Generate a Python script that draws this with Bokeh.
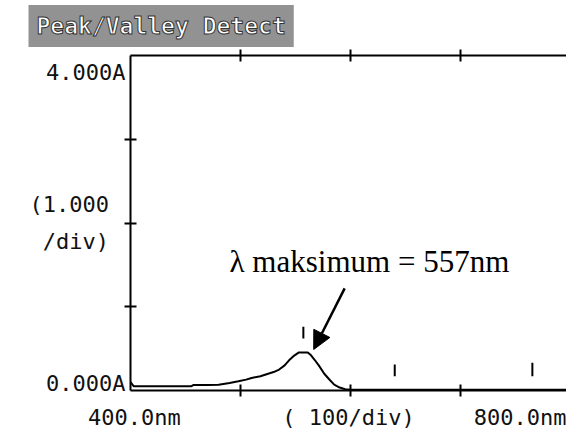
from bokeh.plotting import figure
from bokeh.models import Range1d, Label, Arrow, NormalHead, LinearAxis, FixedTicker, Title
from bokeh.embed import file_html
from bokeh.resources import INLINE

# ---- data ----
wavelength = [400, 403, 455, 457, 470, 480, 490, 498, 505, 510, 518, 525, 530, 535,
              540, 544, 549, 553, 557, 561, 564, 567, 571, 576, 580, 585, 590, 595,
              600, 610, 650, 700, 750, 796]
absorbance = [0.10, 0.05, 0.05, 0.065, 0.065, 0.07, 0.09, 0.11, 0.13, 0.15, 0.17, 0.20, 0.22, 0.25,
              0.30, 0.36, 0.42, 0.455, 0.455, 0.455, 0.42, 0.37, 0.30, 0.20, 0.14, 0.07, 0.035, 0.015,
              0.01, 0.01, 0.01, 0.01, 0.01, 0.01]

# peak / valley marker positions (nm) and their vertical extent (A)
marker_nm = [557, 640, 765]
marker_lo = [0.62, 0.17, 0.17]
marker_hi = [0.76, 0.31, 0.33]

x_ticks = [500, 600, 700]
y_ticks = [1, 2, 3]
y_label_pos = [0.08, 3.80]
y_labels = ["0.000A", "4.000A"]
y_div_label = "(1.000\n/div)"
x_label_pos = [403.6, 598.0, 759.0]
x_labels = ["400.0nm", "( 100/div)", "800.0nm"]
title_text = "Peak/Valley Detect"
peak_text = "λ maksimum = 557nm"
peak_nm = 557

mono = "DejaVu Sans Mono"

p = figure(width=566, height=436, output_backend="svg", toolbar_location=None,
           x_range=Range1d(400, 796), y_range=Range1d(0, 4),
           x_axis_location=None, y_axis_location=None,
           min_border_left=130, min_border_right=0, min_border_top=55, min_border_bottom=46)
p.outline_line_color = None
p.xgrid.visible = False
p.ygrid.visible = False
p.background_fill_color = "white"
p.border_fill_color = "white"

def tick_axis(ticks):
    ax = LinearAxis(ticker=FixedTicker(ticks=ticks))
    ax.axis_line_color = "black"
    ax.axis_line_width = 2
    ax.major_tick_line_color = "black"
    ax.major_tick_line_width = 2
    ax.major_tick_in = 6
    ax.major_tick_out = 6
    ax.minor_tick_line_color = None
    ax.major_label_text_color = None
    ax.major_label_text_font_size = "1px"
    ax.major_label_standoff = -4
    return ax

def label_axis(pos, labels, standoff):
    ax = LinearAxis(ticker=FixedTicker(ticks=pos))
    ax.major_label_overrides = dict(zip(pos, labels))
    ax.axis_line_color = None
    ax.major_tick_line_color = None
    ax.major_tick_in = 0
    ax.major_tick_out = 0
    ax.minor_tick_line_color = None
    ax.major_label_text_font = mono
    ax.major_label_text_font_size = "22px"
    ax.major_label_text_color = "#111"
    ax.major_label_standoff = standoff
    return ax

p.add_layout(tick_axis(y_ticks), "left")
p.add_layout(tick_axis(x_ticks), "below")
p.add_layout(tick_axis(x_ticks), "above")

yl = label_axis(y_label_pos, y_labels, -1)
yl.axis_label = y_div_label
yl.axis_label_orientation = "horizontal"
yl.axis_label_text_font = mono
yl.axis_label_text_font_size = "22px"
yl.axis_label_text_font_style = "normal"
yl.axis_label_text_color = "#111"
yl.axis_label_text_line_height = 1.5
yl.axis_label_standoff = -66
p.add_layout(yl, "left")

xl = label_axis(x_label_pos, x_labels, 8)
p.add_layout(xl, "below")

p.title = Title(text=title_text, align="left", offset=-102, standoff=5,
                text_font=mono, text_font_size="23px", text_font_style="bold",
                text_color="white", text_outline_color="#333",
                background_fill_color="#929292", padding=(8, 8))

p.line(wavelength, absorbance, line_color="black", line_width=2)
p.segment(x0=marker_nm, y0=marker_lo, x1=marker_nm, y1=marker_hi, line_color="black", line_width=2)

# annotation
p.add_layout(Label(x=490.0, y=1.54, text=peak_text, text_align="left", text_baseline="middle",
                   text_font="Liberation Serif", text_font_size="31px", text_color="black"))
p.add_layout(Arrow(end=NormalHead(size=18, fill_color="black", line_color="black"),
                   x_start=594.5, y_start=1.22, x_end=peak_nm + 9.4, y_end=0.49,
                   line_color="black", line_width=2.5))

open("out.html", "w").write(file_html(p, INLINE))
